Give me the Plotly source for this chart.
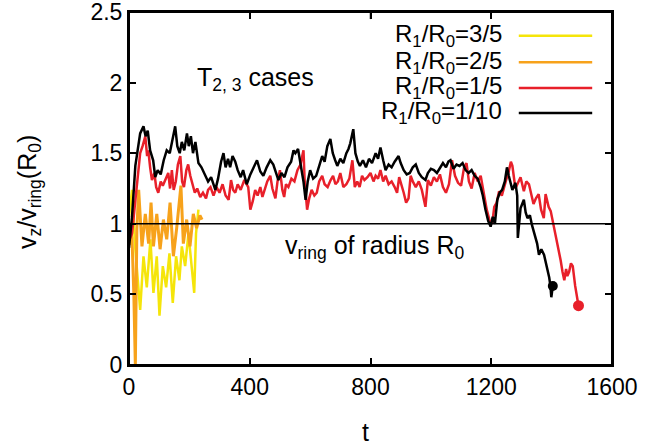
import plotly.graph_objects as go

# ---- data ----
t_yellow = [0, 10, 21, 30, 37, 48, 59, 71, 81, 92, 101, 112, 123, 134, 145, 156, 167, 175, 186, 197, 206, 216, 222, 230]
v_yellow = [1.05, 1.24, 0.82, 0.55, 0.39, 0.77, 0.55, 0.89, 0.51, 0.77, 0.35, 0.70, 0.55, 0.79, 0.44, 0.77, 0.60, 0.84, 0.70, 0.93, 0.74, 0.51, 0.93, 1.10]

t_orange = [0, 4, 10, 16, 21, 26, 32, 43, 54, 65, 73, 81, 92, 103, 114, 125, 136, 147, 158, 172, 180, 191, 202, 213, 224, 235, 242]
v_orange = [0.85, 0.97, 0.90, 0.50, 0.00, 0.96, 1.24, 0.84, 1.07, 0.86, 1.15, 0.84, 1.07, 0.82, 1.03, 0.89, 1.15, 0.77, 0.97, 1.27, 0.86, 1.03, 0.84, 1.07, 0.97, 1.06, 1.03]

t_red = [0, 10, 18, 26, 32, 37, 45, 54, 60, 64, 70, 76, 84, 90, 97, 105, 112, 120, 130, 136, 142, 148, 155, 162, 170, 176,
         182, 190, 196, 203, 210, 218, 226, 236, 245, 255, 262, 270, 280, 290, 300, 310, 320, 330, 338, 345, 352, 360, 370,
         382, 395, 402, 410, 418, 426, 435, 442, 450, 458, 468, 475, 485, 492, 500, 508, 514, 520, 528, 538, 548, 558, 568,
         578, 582, 590, 597, 605, 614, 622, 630, 640, 648, 658, 668, 676, 684, 692, 700, 710, 720, 730, 740, 748, 756, 764,
         772, 780, 790, 800, 810, 817, 825, 833, 842, 850, 860, 870, 880, 888, 895, 903, 910, 918, 926, 933, 940, 950, 960,
         970, 982, 990, 1000, 1010, 1020, 1030, 1040, 1050, 1060, 1070, 1080, 1090, 1100, 1110, 1118, 1126, 1135, 1145, 1155,
         1165, 1175, 1185, 1195, 1203, 1210, 1218, 1226, 1235, 1248, 1258, 1265, 1270, 1280, 1290, 1297, 1308, 1316, 1325,
         1333, 1340, 1348, 1357, 1365, 1374, 1380, 1390, 1397, 1404, 1410, 1418, 1425, 1430, 1436, 1442, 1448, 1452, 1458,
         1464, 1470, 1478, 1489]
v_red = [0.88, 0.93, 1.10, 1.29, 1.40, 1.50, 1.55, 1.62, 1.48, 1.52, 1.40, 1.31, 1.36, 1.26, 1.22, 1.30, 1.27, 1.31, 1.36, 1.25,
         1.38, 1.24, 1.30, 1.42, 1.48, 1.30, 1.26, 1.38, 1.42, 1.34, 1.28, 1.22, 1.25, 1.19, 1.22, 1.18, 1.24, 1.26, 1.20, 1.26,
         1.22, 1.28, 1.20, 1.17, 1.31, 1.24, 1.22, 1.28, 1.24, 1.31, 1.26, 1.10, 1.16, 1.24, 1.20, 1.26, 1.19, 1.25, 1.30, 1.34,
         1.25, 1.18, 1.30, 1.38, 1.24, 1.19, 1.28, 1.26, 1.32, 1.30, 1.38, 1.42, 1.52, 1.30, 1.10, 1.18, 1.24, 1.20, 1.22, 1.30,
         1.34, 1.28, 1.26, 1.31, 1.34, 1.28, 1.30, 1.36, 1.26, 1.28, 1.32, 1.45, 1.26, 1.30, 1.26, 1.34, 1.31, 1.33, 1.36, 1.30,
         1.34, 1.32, 1.38, 1.30, 1.34, 1.28, 1.30, 1.26, 1.22, 1.33, 1.28, 1.22, 1.15, 1.18, 1.34, 1.30, 1.26, 1.30, 1.24, 1.12,
         1.31, 1.27, 1.33, 1.30, 1.35, 1.26, 1.22, 1.28, 1.45, 1.34, 1.29, 1.27, 1.40, 1.43, 1.30, 1.25, 1.36, 1.30, 1.34, 1.22,
         1.10, 1.02, 1.00, 1.12, 1.15, 1.23, 1.20, 1.30, 1.37, 1.44, 1.41, 1.25, 1.30, 1.33, 1.23, 1.30, 1.28, 1.20, 1.14, 1.18,
         1.21, 1.10, 1.04, 1.21, 1.12, 1.09, 1.02, 0.95, 0.88, 0.80, 0.74, 0.66, 0.60, 0.68, 0.63, 0.66, 0.72, 0.70, 0.56, 0.42]

t_black = [0, 10, 21, 30, 37, 48, 55, 62, 70, 80, 87, 95, 105, 115, 125, 135, 145, 153, 160, 168, 175, 183, 192, 198, 205,
           212, 220, 230, 240, 253, 262, 272, 286, 295, 305, 313, 320, 328, 335, 343, 352, 360, 370, 378, 390, 402, 412, 424,
           435, 445, 456, 468, 478, 488, 495, 505, 515, 525, 537, 545, 551, 560, 570, 578, 585, 592, 600, 610, 620, 630, 640,
           648, 657, 667, 675, 683, 690, 700, 710, 720, 727, 733, 743, 750, 758, 765, 775, 785, 795, 805, 817, 825, 833, 842,
           850, 860, 870, 880, 893, 900, 910, 920, 930, 940, 950, 960, 970, 982, 990, 1000, 1010, 1020, 1030, 1040, 1050, 1058,
           1065, 1075, 1085, 1095, 1105, 1115, 1125, 1135, 1145, 1155, 1165, 1172, 1181, 1190, 1198, 1205, 1212, 1220, 1228,
           1236, 1245, 1252, 1258, 1264, 1270, 1280, 1286, 1288, 1297, 1308, 1314, 1320, 1328, 1335, 1346, 1352, 1358, 1366,
           1375, 1382, 1386, 1392, 1396, 1399, 1404]
v_black = [0.83, 1.05, 1.41, 1.55, 1.64, 1.69, 1.62, 1.66, 1.52, 1.45, 1.33, 1.38, 1.35, 1.45, 1.52, 1.50, 1.62, 1.69, 1.55,
           1.50, 1.58, 1.52, 1.64, 1.55, 1.62, 1.50, 1.58, 1.43, 1.40, 1.34, 1.30, 1.33, 1.24, 1.32, 1.44, 1.50, 1.40, 1.46,
           1.40, 1.48, 1.44, 1.38, 1.33, 1.38, 1.28, 1.35, 1.40, 1.45, 1.37, 1.34, 1.40, 1.45, 1.42, 1.36, 1.31, 1.36, 1.33,
           1.40, 1.44, 1.52, 1.50, 1.53, 1.40, 1.30, 1.17, 1.30, 1.38, 1.32, 1.34, 1.42, 1.48, 1.44, 1.55, 1.60, 1.50, 1.45,
           1.41, 1.46, 1.43, 1.50, 1.53, 1.57, 1.67, 1.50, 1.44, 1.41, 1.45, 1.40, 1.46, 1.43, 1.50, 1.46, 1.54, 1.45, 1.38,
           1.42, 1.40, 1.44, 1.48, 1.43, 1.38, 1.35, 1.36, 1.40, 1.42, 1.36, 1.33, 1.31, 1.36, 1.39, 1.38, 1.36, 1.40, 1.43,
           1.40, 1.44, 1.45, 1.39, 1.42, 1.41, 1.43, 1.38, 1.36, 1.38, 1.34, 1.32, 1.26, 1.20, 1.10, 1.02, 0.98, 1.05, 1.00,
           1.17, 1.22, 1.24, 1.30, 1.40, 1.34, 1.28, 1.24, 1.29, 1.20, 0.90, 1.11, 1.17, 1.08, 1.04, 1.06, 0.99, 0.90, 0.86,
           0.78, 0.82, 0.78, 0.72, 0.69, 0.62, 0.56, 0.48, 0.56]

legend_labels = ["R<sub>1</sub>/R<sub>0</sub>=3/5", "R<sub>1</sub>/R<sub>0</sub>=2/5",
                 "R<sub>1</sub>/R<sub>0</sub>=1/5", "R<sub>1</sub>/R<sub>0</sub>=1/10"]
colors = ["#f5e50a", "#f7a21b", "#e8202a", "#000000"]

x_ticks = [0, 400, 800, 1200, 1600]
y_ticks = [0, 0.5, 1, 1.5, 2, 2.5]
y_ticktext = ["0", "0.5", "1", "1.5", "2", "2.5"]

FONT = "Liberation Sans, Arial, Helvetica, sans-serif"
FS_TICK = 23
FS_TEXT = 25

fig = go.Figure()
series = [(t_yellow, v_yellow), (t_orange, v_orange), (t_red, v_red), (t_black, v_black)]
widths = [2.5, 3, 2.5, 2.5]
for (tx, vy), c, w, name in zip(series, colors, widths, legend_labels):
    fig.add_trace(go.Scatter(x=tx, y=vy, mode="lines", line=dict(color=c, width=w),
                             name=name, showlegend=False))

# end-point dots
fig.add_trace(go.Scatter(x=[t_red[-1]], y=[v_red[-1]], mode="markers",
                         marker=dict(color=colors[2], size=11), showlegend=False))
fig.add_trace(go.Scatter(x=[t_black[-1]], y=[v_black[-1]], mode="markers",
                         marker=dict(color=colors[3], size=10), showlegend=False))

# reference line v = 1
fig.add_shape(type="line", xref="paper", x0=0, x1=1, yref="y", y0=1, y1=1,
              line=dict(color="black", width=1.5))
# plot frame
fig.add_shape(type="rect", xref="paper", yref="paper", x0=0, x1=1, y0=0, y1=1,
              line=dict(color="black", width=2), fillcolor="rgba(0,0,0,0)", layer="above")
# mirrored tick marks on the top edge (gnuplot-style border ticks)
for xt in x_ticks[1:-1]:
    fig.add_shape(type="line", xref="x", yref="paper", x0=xt, x1=xt, y0=1, y1=0.98,
                  line=dict(color="black", width=1.5), layer="above")

# manual gnuplot-style key (text right, sample line to the right)
key_y = [0.933, 0.858, 0.785, 0.714]
for lab, c, ky in zip(legend_labels, colors, key_y):
    fig.add_annotation(xref="paper", yref="paper", x=0.772, y=ky, text=lab, showarrow=False,
                       xanchor="right", yanchor="middle", xshift=2,
                       font=dict(family=FONT, size=FS_TEXT - 1, color="black"))
    fig.add_shape(type="line", xref="paper", yref="paper", x0=0.807, x1=0.959, y0=ky, y1=ky,
                  line=dict(color=c, width=2.5))

fig.add_annotation(xref="paper", yref="paper", x=0.262, y=0.81, text="T<sub>2, 3</sub> cases",
                   showarrow=False, xanchor="center", yanchor="middle",
                   font=dict(family=FONT, size=FS_TEXT, color="black"))
fig.add_annotation(xref="paper", yref="paper", x=0.51, y=0.335, text="v<sub>ring</sub> of radius R<sub>0</sub>",
                   showarrow=False, xanchor="center", yanchor="middle",
                   font=dict(family=FONT, size=FS_TEXT, color="black"))

# axis titles as annotations (placed like the reference)
fig.add_annotation(xref="paper", yref="paper", x=0.49, y=-0.19, text="t", showarrow=False,
                   xanchor="center", yanchor="middle", font=dict(family=FONT, size=FS_TEXT, color="black"))
fig.add_annotation(xref="paper", yref="paper", x=-0.207, y=0.49,
                   text="v<sub>z</sub>/v<sub>ring</sub>(R<sub>0</sub>)", showarrow=False, textangle=-90,
                   xanchor="center", yanchor="middle", font=dict(family=FONT, size=FS_TEXT, color="black"))

fig.update_layout(
    width=656, height=446,
    margin=dict(l=129, r=44, t=12, b=81),
    paper_bgcolor="white", plot_bgcolor="white",
    font=dict(family=FONT, size=FS_TICK, color="black"),
    showlegend=False,
    xaxis=dict(range=[0, 1600], tickvals=x_ticks, ticks="inside", ticklen=7, tickwidth=1.5,
               tickcolor="black", showline=True, linecolor="black", linewidth=2, mirror="allticks",
               showgrid=False, zeroline=False, automargin=False, ticklabeloverflow="allow",
               tickfont=dict(size=FS_TICK)),
    yaxis=dict(range=[0, 2.5], tickvals=y_ticks, ticktext=y_ticktext, ticks="inside", ticklen=7,
               tickwidth=1.5, tickcolor="black", showline=True, linecolor="black", linewidth=2,
               mirror="allticks", showgrid=False, zeroline=False, automargin=False,
               ticklabeloverflow="allow", tickfont=dict(size=FS_TICK)),
)

fig.write_html("out.html", config={"displayModeBar": False},
               post_script="document.body.style.margin='0';document.body.style.overflow='hidden';window.scrollTo(0,0);")
